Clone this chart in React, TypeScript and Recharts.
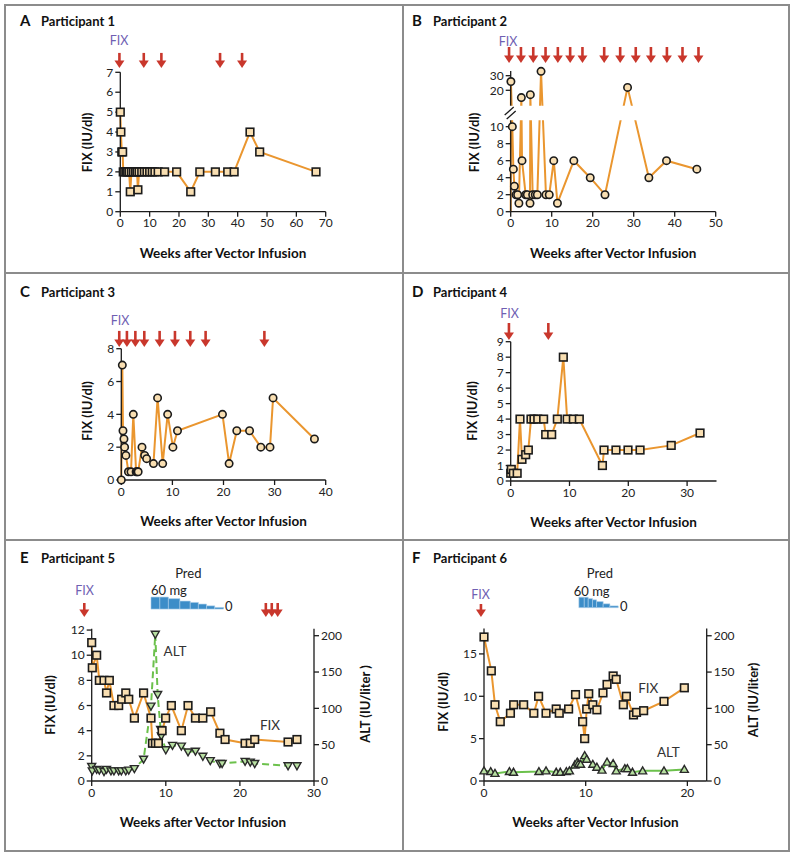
import React from 'react';
import { ComposedChart, Line, XAxis, YAxis, ReferenceDot, ReferenceArea } from 'recharts';

const W = 795;
const H = 857;
const FONT = 'Lato, "Open Sans", Arial, sans-serif';
const INK = '#1b1b1b';
const ORANGE = '#EA962F';
const RED = '#C9372C';
const PURPLE = '#6F5FB3';
const GREEN = '#6CC14C';
const BLUE = '#3C8DC8';
const MARK_FILL = '#F9DFB2';
const TRI_FILL = '#B8E0A2';

// ---------------- DATA ----------------
// Participant 1
const weeksA = [0, 0.2, 0.5, 0.8, 1.0, 1.5, 2.0, 2.5, 3.0, 3.4, 3.8, 4.5, 5.2, 5.7, 6.0, 6.4, 7.3, 8.2, 9.1, 10.0, 10.9, 11.8, 12.9, 15.1, 19.2, 24.0, 27.1, 32.4, 36.6, 38.8, 44.2, 47.5, 66.7];
const fixA = [5, 4, 3, 3, 2, 2, 2, 2, 2, 1, 2, 2, 2, 2, 1.1, 2, 2, 2, 2, 2, 2, 2, 2, 2, 2, 1, 2, 2, 2, 2, 4, 3, 2];
const arrowsA = [-0.3, 8, 14, 34, 41.5];
const xTicksA = [0, 10, 20, 30, 40, 50, 60, 70];
const yTicksA = [0, 1, 2, 3, 4, 5, 6, 7];

// Participant 2
const weeksB = [0, 0.05, 0.4, 0.65, 0.9, 1.3, 1.7, 2.0, 2.6, 2.76, 3.65, 4.06, 4.71, 4.79, 5.36, 6.0, 6.5, 7.4, 8.6, 9.4, 10.5, 11.4, 15.4, 19.4, 23.0, 28.5, 33.7, 38.0, 45.4];
const fixB = [0, 26, 10, 5, 3, 2, 2, 1, 15, 6, 2, 2, 1, 17, 2, 2, 2, 33, 2, 2, 6, 1, 6, 4, 2, 22, 4, 6, 5];
const arrowsB = [-0.4, 2.5, 5.5, 8.5, 11.5, 14.5, 17.5, 22.8, 26.7, 30.5, 34.2, 38.1, 41.9, 45.8];
const xTicksB = [0, 10, 20, 30, 40, 50];
const yTicksB = [0, 2, 4, 6, 8, 10, 20, 30];

// Participant 3
const weeksC = [0, 0.2, 0.33, 0.52, 0.65, 0.9, 1.4, 1.9, 2.35, 2.9, 3.1, 3.3, 4.05, 4.57, 4.96, 6.3, 7.1, 8.1, 9.07, 10.1, 11.0, 19.8, 21.1, 22.6, 25.1, 27.3, 29.1, 29.7, 37.8];
const fixC = [0, 7, 3, 2.5, 2, 1.5, 0.5, 0.5, 4, 0.5, 0.5, 0.5, 2, 1.5, 1.3, 1, 5, 1, 4, 2, 3, 4, 1, 3, 3, 2, 2, 5, 2.5];
const arrowsC = [-0.4, 1.1, 2.75, 4.5, 7.5, 10.5, 13.5, 16.5, 28];
const xTicksC = [0, 10, 20, 30, 40];
const yTicksC = [0, 2, 4, 6, 8];

// Participant 4
const weeksD = [0, 0.1, 0.45, 1.1, 1.58, 1.92, 2.55, 3.0, 3.45, 3.96, 4.6, 5.6, 5.95, 6.97, 7.93, 8.95, 9.6, 10.65, 11.67, 15.6, 15.87, 17.9, 19.95, 22.0, 27.3, 32.2];
const fixD = [0.5, 0.75, 0.5, 0.5, 4, 1.4, 1.7, 2.0, 4, 4, 4, 4, 3, 3, 4, 8, 4, 4, 4, 1, 2, 2, 2, 2, 2.3, 3.1];
const arrowsD = [-0.3, 6.4];
const xTicksD = [0, 10, 20, 30];
const yTicksD = [0, 1, 2, 3, 4, 5, 6, 7, 8, 9];

// Participant 5
const weeksEfix = [0, 0.08, 0.67, 1.03, 1.66, 2.0, 2.38, 3.0, 3.64, 4.04, 4.6, 5.0, 5.76, 7.0, 8.0, 8.2, 8.6, 9.0, 9.5, 9.98, 10.75, 12.1, 13.0, 14.0, 15.0, 16.05, 17.3, 18.0, 20.7, 21.4, 22.0, 26.5, 27.7];
const fixE = [11, 9, 10, 8, 8, 7, 8, 6, 6, 6.5, 7, 6.5, 5, 7, 5, 3, 3, 3, 4, 5, 6, 4, 6, 5, 5, 5.5, 3.8, 3.3, 3, 3, 3.3, 3.1, 3.3];
const weeksEalt = [0, 0.08, 0.67, 1.03, 1.66, 2.0, 2.6, 3.0, 3.64, 4.0, 4.6, 5.0, 5.76, 7.0, 8.0, 8.58, 8.9, 9.3, 9.4, 10.0, 10.9, 12.1, 13.0, 14.0, 15.0, 16.0, 17.3, 17.6, 20.7, 21.4, 22.0, 26.5, 27.7];
const altE = [20, 14, 16, 15, 13, 16, 14, 14, 14, 14, 14, 15, 17, 30, 103, 202, 119, 71, 62, 43, 49, 48, 40, 41, 34, 28, 24, 24, 27, 26, 24, 21, 21];
const arrowsE = [-1.0, 23.5, 24.3, 25.1];
const predWeeksE = [8.0, 9.2, 10.35, 11.9, 13.3, 14.4, 15.5, 16.6, 17.8];
const predDoseE = [60, 60, 52, 40, 33, 25, 16, 8];
const xTicksE = [0, 10, 20, 30];
const yTicksE = [0, 2, 4, 6, 8, 10, 12];
const altTicks = [0, 50, 100, 150, 200];

// Participant 6
const weeksFfix = [0, 0.72, 1.08, 1.6, 2.6, 2.92, 3.9, 4.9, 5.37, 6.1, 7.1, 7.4, 8.32, 9.0, 9.7, 9.9, 10.1, 10.3, 10.7, 11.1, 11.7, 12.1, 12.7, 13.0, 13.7, 14.0, 14.7, 15.0, 15.7, 17.7, 19.7];
const fixF = [17, 13, 9, 7, 8, 9, 9, 8, 10, 8, 8.5, 8, 8.5, 10.2, 7, 5, 8.5, 10.3, 9, 8.4, 10.4, 11.4, 12.4, 12, 9, 10, 7.8, 8.1, 8.3, 9.4, 11];
const weeksFalt = [0, 0.66, 1.08, 2.5, 2.9, 5.4, 6.1, 7.1, 7.5, 8.1, 8.4, 8.93, 9.17, 9.3, 9.5, 9.9, 10.1, 10.7, 11.1, 11.6, 12.1, 12.7, 13.0, 13.85, 14.1, 14.6, 15.6, 17.7, 19.7];
const altF = [14, 13, 10.5, 13, 12, 13, 14, 12, 12, 13, 14, 22, 26, 24, 23, 35, 30, 23, 19, 15, 26, 24, 14, 17, 17, 12, 14, 14, 16];
const arrowsF = [-0.3];
const predWeeksF = [9.33, 9.86, 10.25, 10.67, 11.07, 11.72, 12.38, 13.2];
const predDoseF = [60, 60, 52, 45, 35, 22, 10];
const xTicksF = [0, 10, 20];
const yTicksF = [0, 5, 10, 15];

// ---------------- LAYOUT ----------------
type Rect = { l: number; t: number; r: number; b: number };
const RA: Rect = { l: 120.3, t: 72.3, r: 325.7, b: 211.7 };
const RB: Rect = { l: 510.7, t: 71.0, r: 715.7, b: 211.7 };
const RC: Rect = { l: 121.3, t: 348.7, r: 325.7, b: 480 };
const RD: Rect = { l: 510.7, t: 341.7, r: 716.5, b: 481 };
const RE: Rect = { l: 91.7, t: 628.8, r: 314, b: 781 };
const RF: Rect = { l: 484, t: 628.5, r: 706.7, b: 781 };
const YW = 40;
const XH = 30;
const marginFor = (p: Rect, right = false) => ({
  left: p.l - YW,
  top: p.t,
  right: W - p.r - (right ? YW : 0),
  bottom: H - p.b - XH,
});

// broken axis transform for participant 2
const toDispB = (v: number) => (v <= 11 ? v : 14.28 + (v - 20) * 0.1718);
const yDispTicksB = yTicksB.map(toDispB);
const labelB = (v: number) => {
  const k = yDispTicksB.findIndex((t) => Math.abs(t - v) < 1e-6);
  return k >= 0 ? String(yTicksB[k]) : '';
};

// prednisone block placement (in FIX-axis units above the plot)
const PRED_E = { base: 13.67, perMg: 0.0159 };
const PRED_F = { base: 20.46, perMg: 0.0205 };
const ARROW_Y = { A: 7.22, B: 17.49, C: 8.11, D: 9.11, E: 13.04, F: 19.36 };

const zip = (w: number[], v: number[], f: (x: number) => number = (x) => x) =>
  w.map((x, i) => ({ w: x, v: f(v[i]) }));

// ---------------- MARKERS ----------------
const squareDot = (p: any) => {
  const { cx, cy, index } = p;
  if (cx == null || cy == null) return <g key={`s${index}`} />;
  return (
    <rect key={`s${index}`} x={cx - 3.8} y={cy - 3.8} width={7.6} height={7.6} fill={MARK_FILL} stroke={INK} strokeWidth={1.6} />
  );
};
const circleDot = (skip: number) => (p: any) => {
  const { cx, cy, index } = p;
  if (cx == null || cy == null || index === skip) return <g key={`c${index}`} />;
  return <circle key={`c${index}`} cx={cx} cy={cy} r={3.7} fill={MARK_FILL} stroke={INK} strokeWidth={1.6} />;
};
const triDot = (down: boolean) => (p: any) => {
  const { cx, cy, index } = p;
  if (cx == null || cy == null) return <g key={`t${index}`} />;
  const pts = down
    ? `${cx - 4},${cy - 3} ${cx + 4},${cy - 3} ${cx},${cy + 4}`
    : `${cx - 4},${cy + 3} ${cx + 4},${cy + 3} ${cx},${cy - 4}`;
  return <polygon key={`t${index}`} points={pts} fill={TRI_FILL} stroke="#2a2a2a" strokeWidth={1.4} />;
};
const arrowShape = (len: number) => (p: any) => {
  const { cx, cy } = p;
  return (
    <g>
      <line x1={cx} y1={cy - len} x2={cx} y2={cy - 6} stroke={RED} strokeWidth={2.6} />
      <polygon points={`${cx - 5},${cy - 7.5} ${cx + 5},${cy - 7.5} ${cx},${cy}`} fill={RED} />
    </g>
  );
};
const breakShape = (p: any) => {
  const { cx, cy } = p;
  return (
    <g>
      <line x1={cx - 6} y1={cy + 2} x2={cx + 3} y2={cy - 6} stroke={INK} strokeWidth={1.3} />
      <line x1={cx - 4} y1={cy + 6} x2={cx + 5} y2={cy - 2} stroke={INK} strokeWidth={1.3} />
    </g>
  );
};

const axisStroke = { stroke: INK, strokeWidth: 1.3 };
const tickStyle = { fontSize: 12, fill: '#222', fontFamily: FONT };

const xAxisProps = (domain: number[], ticks: number[]) => ({
  type: 'number' as const,
  dataKey: 'w',
  domain,
  ticks,
  interval: 0 as const,
  tickSize: 5,
  axisLine: axisStroke,
  tickLine: axisStroke,
  tick: tickStyle,
  height: XH,
});
const yAxisProps = (domain: number[], ticks: number[]) => ({
  type: 'number' as const,
  domain,
  ticks,
  interval: 0 as const,
  tickSize: 5,
  axisLine: axisStroke,
  tickLine: axisStroke,
  tick: tickStyle,
  width: YW,
});

const chartStyle: React.CSSProperties = { position: 'absolute', left: 0, top: 0 };

const arrows = (xs: number[], y: number, len: number, yAxisId?: string) =>
  xs.map((x, i) => (
    <ReferenceDot key={`a${i}`} x={x} y={y} r={4} yAxisId={yAxisId as any} ifOverflow="visible" shape={arrowShape(len)} />
  ));

const predAreas = (weeks: number[], doses: number[], cfg: { base: number; perMg: number }) =>
  doses.map((d, i) => (
    <ReferenceArea
      key={`p${i}`}
      yAxisId="l"
      x1={weeks[i]}
      x2={weeks[i + 1]}
      y1={cfg.base}
      y2={cfg.base + d * cfg.perMg}
      ifOverflow="visible"
      fill={BLUE}
      fillOpacity={1}
      stroke="#A9CDEA"
      strokeWidth={0.6}
    />
  ));

// ---------------- OVERLAY TEXT ----------------
const titles: [string, string, number, number, number][] = [
  ['A', 'Participant 1', 20, 41, 26],
  ['B', 'Participant 2', 412, 433, 26],
  ['C', 'Participant 3', 20, 41, 297],
  ['D', 'Participant 4', 412, 433, 297],
  ['E', 'Participant 5', 20, 41, 563],
  ['F', 'Participant 6', 412, 433, 563],
];
const yTitles: [string, number, number][] = [
  ['FIX (IU/dl)', 87, 142.5],
  ['FIX (IU/dl)', 473.5, 142.5],
  ['FIX (IU/dl)', 87, 411],
  ['FIX (IU/dl)', 472, 411],
  ['FIX (IU/dl)', 50, 705],
  ['FIX (IU/dl)', 443, 702],
  ['ALT (IU/liter )', 365, 704],
  ['ALT (IU/liter)', 753, 700],
];
const xTitles: [number, number][] = [
  [223, 258],
  [613.2, 258],
  [223.5, 526],
  [613.6, 527],
  [202.9, 827],
  [595.4, 827],
];
const fixLabels: [number, number][] = [
  [119, 45],
  [508, 46],
  [120, 325],
  [509.5, 318],
  [84.5, 595],
  [480.5, 599],
];

const Overlay = () => (
  <svg width={W} height={H} style={chartStyle}>
    <rect x={5} y={5} width={784} height={846} fill="none" stroke="#8c8c8c" strokeWidth={2} />
    <line x1={403} y1={5} x2={403} y2={851} stroke="#8c8c8c" strokeWidth={2} />
    <line x1={5} y1={273} x2={789} y2={273} stroke="#8c8c8c" strokeWidth={2} />
    <line x1={5} y1={540} x2={789} y2={540} stroke="#8c8c8c" strokeWidth={2} />
    <g fontFamily={FONT} fill="#111">
      {titles.map(([l, t, x1, x2, y]) => (
        <g key={l}>
          <text x={x1} y={y} fontSize={15} fontWeight={700}>{l}</text>
          <text x={x2} y={y} fontSize={13} fontWeight={700}>{t}</text>
        </g>
      ))}
      {yTitles.map(([t, x, y], i) => (
        <text key={`yt${i}`} x={x} y={y} fontSize={13} fontWeight={700} textAnchor="middle" dominantBaseline="central" transform={`rotate(-90 ${x} ${y})`}>
          {t}
        </text>
      ))}
      {xTitles.map(([x, y], i) => (
        <text key={`xt${i}`} x={x} y={y} fontSize={13.5} fontWeight={700} textAnchor="middle">
          Weeks after Vector Infusion
        </text>
      ))}
      {fixLabels.map(([x, y], i) => (
        <text key={`fx${i}`} x={x} y={y} fontSize={12.5} fill={PURPLE} textAnchor="middle">FIX</text>
      ))}
      <g fontSize={13} fill="#222">
        <text x={188.3} y={578} textAnchor="middle">Pred</text>
        <text x={151} y={595}>60 mg</text>
        <text x={225} y={611}>0</text>
        <text x={600} y={578} textAnchor="middle">Pred</text>
        <text x={591.7} y={596} textAnchor="middle">60 mg</text>
        <text x={620} y={611}>0</text>
      </g>
      <g fontSize={13.5} fill="#333">
        <text x={175} y={656} textAnchor="middle">ALT</text>
        <text x={270} y={730} textAnchor="middle">FIX</text>
        <text x={648.3} y={693} textAnchor="middle">FIX</text>
        <text x={668.3} y={757} textAnchor="middle">ALT</text>
      </g>
    </g>
  </svg>
);

// ---------------- CHARTS ----------------
const ChartA = () => (
  <ComposedChart width={W} height={H} margin={marginFor(RA)} style={chartStyle}>
    <XAxis {...xAxisProps([0, 70], xTicksA)} />
    <YAxis {...yAxisProps([0, 7], yTicksA)} />
    <Line data={zip(weeksA, fixA)} dataKey="v" stroke={ORANGE} strokeWidth={2} dot={squareDot} activeDot={false} isAnimationActive={false} />
    {arrows(arrowsA, ARROW_Y.A, 15)}
  </ComposedChart>
);

const ChartB = () => (
  <ComposedChart width={W} height={H} margin={marginFor(RB)} style={chartStyle}>
    <XAxis {...xAxisProps([0, 50], xTicksB)} />
    <YAxis {...yAxisProps([0, 16.55], yDispTicksB)} tickFormatter={labelB} />
    <Line data={zip(weeksB, fixB, toDispB)} dataKey="v" stroke={ORANGE} strokeWidth={2} dot={circleDot(0)} activeDot={false} isAnimationActive={false} />
    <ReferenceArea x1={-0.9} x2={50} y1={10.75} y2={12.45} ifOverflow="visible" fill="#ffffff" fillOpacity={1} stroke="none" {...({ zIndex: 2000 } as any)} />
    <ReferenceDot x={0} y={11.6} r={4} ifOverflow="visible" shape={breakShape} {...({ zIndex: 2100 } as any)} />
    {arrows(arrowsB, ARROW_Y.B, 16)}
  </ComposedChart>
);

const ChartC = () => (
  <ComposedChart width={W} height={H} margin={marginFor(RC)} style={chartStyle}>
    <XAxis {...xAxisProps([0, 40], xTicksC)} />
    <YAxis {...yAxisProps([0, 8], yTicksC)} />
    <Line data={zip(weeksC, fixC)} dataKey="v" stroke={ORANGE} strokeWidth={2} dot={circleDot(-1)} activeDot={false} isAnimationActive={false} />
    {arrows(arrowsC, ARROW_Y.C, 16)}
  </ComposedChart>
);

const ChartD = () => (
  <ComposedChart width={W} height={H} margin={marginFor(RD)} style={chartStyle}>
    <XAxis {...xAxisProps([0, 35], xTicksD)} />
    <YAxis {...yAxisProps([0, 9], yTicksD)} />
    <Line data={zip(weeksD, fixD)} dataKey="v" stroke={ORANGE} strokeWidth={2} dot={squareDot} activeDot={false} isAnimationActive={false} />
    {arrows(arrowsD, ARROW_Y.D, 17)}
  </ComposedChart>
);

const ChartE = () => (
  <ComposedChart width={W} height={H} margin={marginFor(RE, true)} style={chartStyle}>
    <XAxis {...xAxisProps([0, 30], xTicksE)} />
    <YAxis yAxisId="l" {...yAxisProps([0, 12.1], yTicksE)} />
    <YAxis yAxisId="r" orientation="right" {...yAxisProps([0, 209.5], altTicks)} />
    <Line yAxisId="r" data={zip(weeksEalt, altE)} dataKey="v" stroke={GREEN} strokeWidth={2} strokeDasharray="7 4" dot={triDot(true)} activeDot={false} isAnimationActive={false} />
    <Line yAxisId="l" data={zip(weeksEfix, fixE)} dataKey="v" stroke={ORANGE} strokeWidth={2} dot={squareDot} activeDot={false} isAnimationActive={false} />
    {predAreas(predWeeksE, predDoseE, PRED_E)}
    {arrows(arrowsE, ARROW_Y.E, 14, 'l')}
  </ComposedChart>
);

const ChartF = () => (
  <ComposedChart width={W} height={H} margin={marginFor(RF, true)} style={chartStyle}>
    <XAxis {...xAxisProps([0, 21.9], xTicksF)} />
    <YAxis yAxisId="l" {...yAxisProps([0, 18], yTicksF)} />
    <YAxis yAxisId="r" orientation="right" {...yAxisProps([0, 210], altTicks)} />
    <Line yAxisId="r" data={zip(weeksFalt, altF)} dataKey="v" stroke={GREEN} strokeWidth={2} dot={triDot(false)} activeDot={false} isAnimationActive={false} />
    <Line yAxisId="l" data={zip(weeksFfix, fixF)} dataKey="v" stroke={ORANGE} strokeWidth={2} dot={squareDot} activeDot={false} isAnimationActive={false} />
    {predAreas(predWeeksF, predDoseF, PRED_F)}
    {arrows(arrowsF, ARROW_Y.F, 13, 'l')}
  </ComposedChart>
);

export default function App() {
  return (
    <div style={{ position: 'absolute', left: 0, top: 0, width: W, height: H, background: '#fff', fontFamily: FONT }}>
      <Overlay />
      <ChartA />
      <ChartB />
      <ChartC />
      <ChartD />
      <ChartE />
      <ChartF />
    </div>
  );
}
